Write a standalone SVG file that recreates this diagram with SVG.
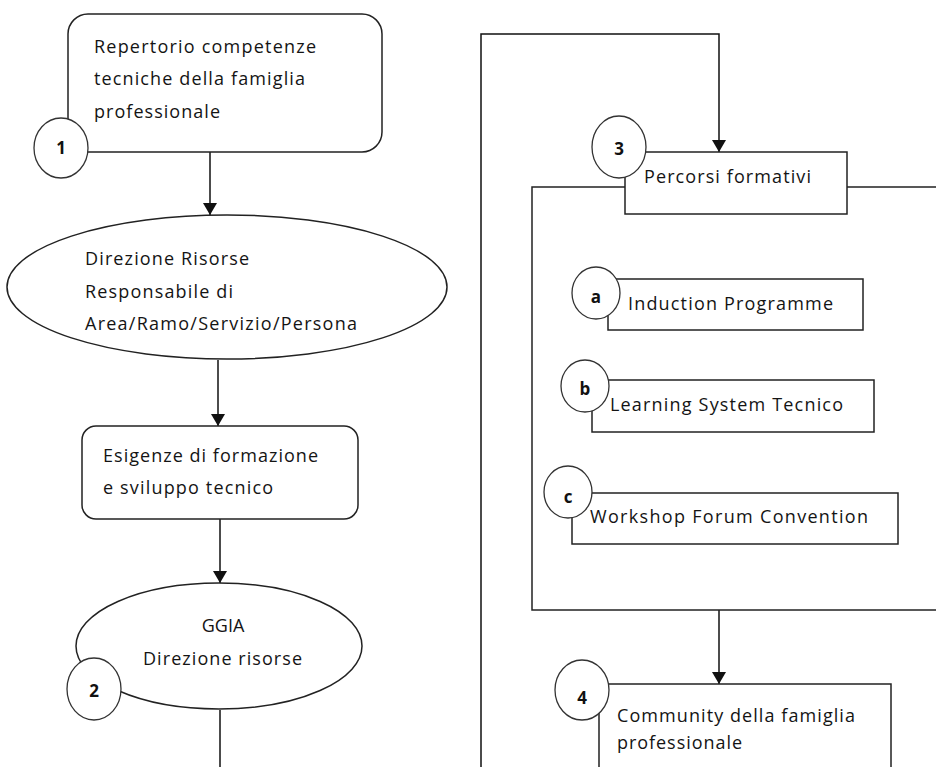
<svg xmlns="http://www.w3.org/2000/svg" width="936" height="767" viewBox="0 0 936 767">
  <defs>
    <marker id="arrow" viewBox="0 0 12 14" refX="12" refY="7" markerWidth="12" markerHeight="14" markerUnits="userSpaceOnUse" orient="auto">
      <path d="M0,0 L12,7 L0,14 z" fill="#111"/>
    </marker>
    <style>
      .shape { fill: #fff; stroke: #222; stroke-width: 1.5; }
      .badge { fill: #fff; stroke: #333; stroke-width: 1.3; }
      .wire { fill: none; stroke: #111; stroke-width: 1.5; }
      .lbl { font-family: "Open Sans", "Noto Sans", "Liberation Sans", sans-serif; font-size: 18px; fill: #141414; }
      .num { font-family: "Open Sans", "Noto Sans", "Liberation Sans", sans-serif; font-size: 17px; font-weight: bold; fill: #111; text-anchor: middle; }
    </style>
  </defs>
  <rect width="936" height="767" fill="#fff"/>

  <!-- connectors -->
  <g id="connectors">
    <line class="wire" x1="210" y1="152" x2="210" y2="215" marker-end="url(#arrow)"/>
    <line class="wire" x1="218" y1="360" x2="218" y2="426" marker-end="url(#arrow)"/>
    <line class="wire" x1="220" y1="519" x2="220" y2="583" marker-end="url(#arrow)"/>
    <line class="wire" x1="220" y1="710" x2="220" y2="767"/>
    <polyline class="wire" points="481,767 481,34 719,34 719,152" marker-end="url(#arrow)"/>
    <line class="wire" x1="719" y1="610" x2="719" y2="684" marker-end="url(#arrow)"/>
  </g>

  <!-- node 1 -->
  <g id="node-repertorio">
    <rect class="shape" x="68" y="14" width="314" height="138" rx="20" ry="20"/>
    <text class="lbl" x="94" y="53" textLength="222" lengthAdjust="spacing">Repertorio competenze</text>
    <text class="lbl" x="94" y="85" textLength="211" lengthAdjust="spacing">tecniche della famiglia</text>
    <text class="lbl" x="94" y="118" textLength="126" lengthAdjust="spacing">professionale</text>
    <ellipse class="badge" cx="61" cy="148" rx="27" ry="30"/>
    <text class="num" x="61" y="154">1</text>
  </g>

  <!-- node: direzione risorse -->
  <g id="node-direzione">
    <ellipse class="shape" cx="227" cy="287" rx="220" ry="72"/>
    <text class="lbl" x="85" y="265" textLength="164" lengthAdjust="spacing">Direzione Risorse</text>
    <text class="lbl" x="85" y="298" textLength="148" lengthAdjust="spacing">Responsabile di</text>
    <text class="lbl" x="85" y="330" textLength="272" lengthAdjust="spacing">Area/Ramo/Servizio/Persona</text>
  </g>

  <!-- node: esigenze -->
  <g id="node-esigenze">
    <rect class="shape" x="82" y="426" width="276" height="93" rx="14" ry="14"/>
    <text class="lbl" x="103" y="462" textLength="215" lengthAdjust="spacing">Esigenze di formazione</text>
    <text class="lbl" x="103" y="494" textLength="170" lengthAdjust="spacing">e sviluppo  tecnico</text>
  </g>

  <!-- node 2 -->
  <g id="node-ggia">
    <ellipse class="shape" cx="219" cy="646" rx="143" ry="63"/>
    <text class="lbl" x="223" y="632" text-anchor="middle">GGIA</text>
    <text class="lbl" x="143" y="665" textLength="159" lengthAdjust="spacing">Direzione risorse</text>
    <ellipse class="badge" cx="94" cy="689" rx="27" ry="31"/>
    <text class="num" x="94" y="697">2</text>
  </g>

  <!-- container for the training paths -->
  <g id="group-percorsi">
    <rect class="shape" x="532" y="187" width="420" height="423" fill="none"/>
  </g>

  <!-- node 3 -->
  <g id="node-percorsi">
    <rect class="shape" x="625" y="152" width="222" height="62"/>
    <text class="lbl" x="644" y="183" textLength="167" lengthAdjust="spacing">Percorsi formativi</text>
    <ellipse class="badge" cx="619" cy="147" rx="27" ry="31"/>
    <text class="num" x="619" y="155">3</text>
  </g>

  <!-- node a -->
  <g id="node-induction">
    <rect class="shape" x="608" y="279" width="255" height="51"/>
    <text class="lbl" x="628" y="310" textLength="205" lengthAdjust="spacing">Induction  Programme</text>
    <ellipse class="badge" cx="596" cy="293" rx="24" ry="26"/>
    <text class="num" x="596" y="303">a</text>
  </g>

  <!-- node b -->
  <g id="node-learning">
    <rect class="shape" x="592" y="380" width="282" height="52"/>
    <text class="lbl" x="610" y="411" textLength="233" lengthAdjust="spacing">Learning System Tecnico</text>
    <ellipse class="badge" cx="585" cy="386" rx="24" ry="26"/>
    <text class="num" x="585" y="395">b</text>
  </g>

  <!-- node c -->
  <g id="node-workshop">
    <rect class="shape" x="572" y="493" width="326" height="51"/>
    <text class="lbl" x="590" y="523" textLength="278" lengthAdjust="spacing">Workshop  Forum  Convention</text>
    <ellipse class="badge" cx="568" cy="492" rx="24" ry="26"/>
    <text class="num" x="568" y="503">c</text>
  </g>

  <!-- node 4 -->
  <g id="node-community">
    <rect class="shape" x="599" y="684" width="292" height="100"/>
    <text class="lbl" x="617" y="722" textLength="238" lengthAdjust="spacing">Community  della famiglia</text>
    <text class="lbl" x="617" y="749" textLength="125" lengthAdjust="spacing">professionale</text>
    <ellipse class="badge" cx="582" cy="690" rx="27" ry="30"/>
    <text class="num" x="582" y="704">4</text>
  </g>
</svg>
